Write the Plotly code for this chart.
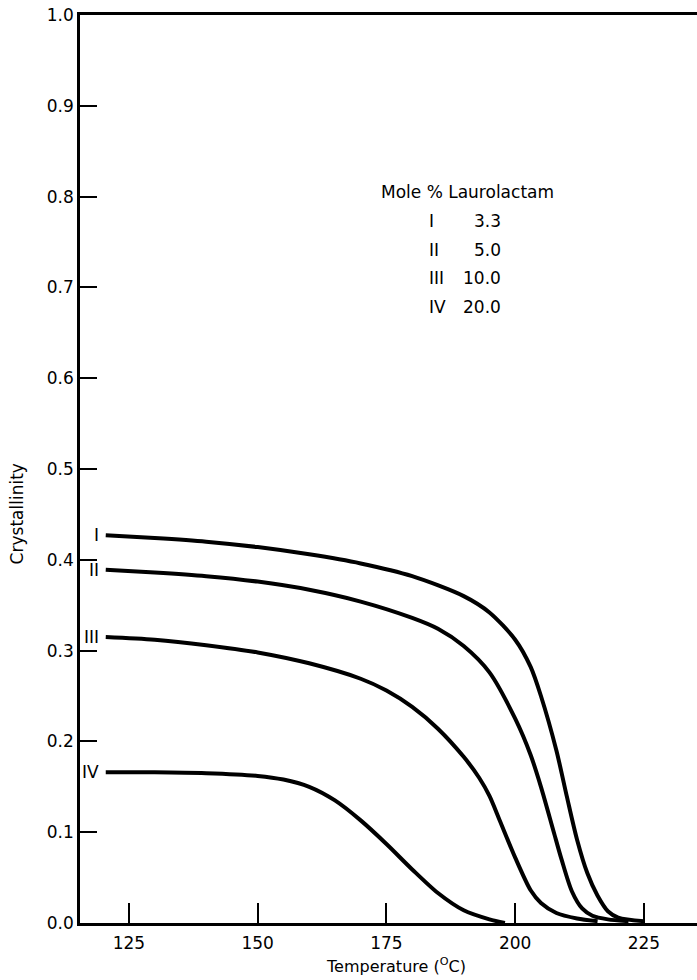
import plotly.graph_objects as go

# Crystallinity vs temperature for four laurolactam contents
temp_I = [120.5, 130, 140, 150, 160, 170, 180, 190, 195, 200, 203, 205, 208, 210, 212, 214, 216, 218, 220, 225]
cryst_I = [0.427, 0.424, 0.420, 0.414, 0.406, 0.396, 0.382, 0.360, 0.342, 0.312, 0.282, 0.250, 0.190, 0.140, 0.092, 0.055, 0.030, 0.013, 0.006, 0.002]

temp_II = [120.5, 130, 140, 150, 160, 170, 180, 185, 190, 195, 200, 203, 205, 207.5, 209, 211, 213, 215, 218, 222]
cryst_II = [0.389, 0.386, 0.382, 0.376, 0.367, 0.354, 0.336, 0.324, 0.305, 0.276, 0.225, 0.185, 0.150, 0.100, 0.070, 0.035, 0.016, 0.008, 0.004, 0.002]

temp_III = [120.5, 130, 140, 150, 160, 170, 175, 180, 185, 190, 193, 195, 197, 200, 203, 205, 208, 212, 216]
cryst_III = [0.315, 0.312, 0.306, 0.298, 0.286, 0.269, 0.256, 0.238, 0.214, 0.183, 0.160, 0.140, 0.113, 0.072, 0.036, 0.022, 0.011, 0.005, 0.002]

temp_IV = [120.5, 130, 140, 150, 155, 160, 165, 170, 175, 180, 185, 190, 195, 198]
cryst_IV = [0.166, 0.166, 0.165, 0.162, 0.158, 0.150, 0.135, 0.113, 0.087, 0.059, 0.033, 0.014, 0.004, 0.0]

series_names = ["I", "II", "III", "IV"]
mole_pct = ["3.3", "5.0", "10.0", "20.0"]

x_ticks = [125, 150, 175, 200, 225]
y_ticks = [0.0, 0.1, 0.2, 0.3, 0.4, 0.5, 0.6, 0.7, 0.8, 0.9, 1.0]

FONT = "DejaVu Sans, Liberation Sans, Arial, sans-serif"
FS = 17

W, H = 697, 980
ML, MR, MT, MB = 80, 0, 15, 57
pw, ph = W - ML - MR, H - MT - MB


def px_x(p):
    return (p - ML) / pw


def px_y(p):
    return 1 - (p - MT) / ph


fig = go.Figure()
curves = [(temp_I, cryst_I), (temp_II, cryst_II), (temp_III, cryst_III), (temp_IV, cryst_IV)]
for name, (xs, ys) in zip(series_names, curves):
    fig.add_trace(go.Scatter(
        x=xs, y=ys, mode="lines", name=name,
        line=dict(color="black", width=4, shape="spline", smoothing=0.8),
        showlegend=False, hoverinfo="skip",
    ))

txt = dict(family=FONT, size=FS, color="black")
annotations = []

# Roman numeral labels just left of each curve's start
for name, (xs, ys) in zip(series_names, curves):
    annotations.append(dict(
        x=119.6, y=ys[0], xref="x", yref="y", text=name, showarrow=False,
        xanchor="right", yanchor="middle", font=txt,
    ))

# Key block: header, numerals and mole percentages
annotations.append(dict(
    x=px_x(379), y=px_y(192), xref="paper", yref="paper", text="Mole % Laurolactam",
    showarrow=False, xanchor="left", yanchor="middle", font=txt,
))
key_rows_y = [221, 250, 278, 307]
for name, pct, ry in zip(series_names, mole_pct, key_rows_y):
    annotations.append(dict(
        x=px_x(427), y=px_y(ry), xref="paper", yref="paper", text=name,
        showarrow=False, xanchor="left", yanchor="middle", font=txt,
    ))
    annotations.append(dict(
        x=px_x(503), y=px_y(ry), xref="paper", yref="paper", text=pct,
        showarrow=False, xanchor="right", yanchor="middle", font=txt,
    ))

# Axis titles
annotations.append(dict(
    x=px_x(17), y=0.45, xref="paper", yref="paper", text="Crystallinity",
    textangle=-90, showarrow=False, xanchor="center", yanchor="middle", font=txt,
))
annotations.append(dict(
    x=px_x(396), y=px_y(978), xref="paper", yref="paper",
    text="Temperature (<sup>O</sup>C)", showarrow=False, xanchor="center",
    yanchor="bottom", font=dict(family=FONT, size=16, color="black"),
))

fig.update_layout(
    width=W, height=H,
    margin=dict(l=ML, r=MR, t=MT, b=MB),
    paper_bgcolor="white", plot_bgcolor="white",
    annotations=annotations,
    font=txt,
)
fig.update_xaxes(
    range=[115.5, 235.3], tickvals=x_ticks, ticktext=[str(v) for v in x_ticks],
    ticks="inside", ticklen=20, tickwidth=2, tickcolor="black",
    showline=True, linewidth=2.5, linecolor="black", mirror=True,
    showgrid=False, zeroline=False, tickfont=txt, ticklabelstandoff=3,
)
fig.update_yaxes(
    range=[0, 1.0], tickvals=y_ticks, ticktext=[f"{v:.1f}" for v in y_ticks],
    ticks="inside", ticklen=17, tickwidth=2, tickcolor="black",
    showline=True, linewidth=2.5, linecolor="black", mirror=False,
    showgrid=False, zeroline=False, tickfont=txt,
)

fig.write_html("out.html")
